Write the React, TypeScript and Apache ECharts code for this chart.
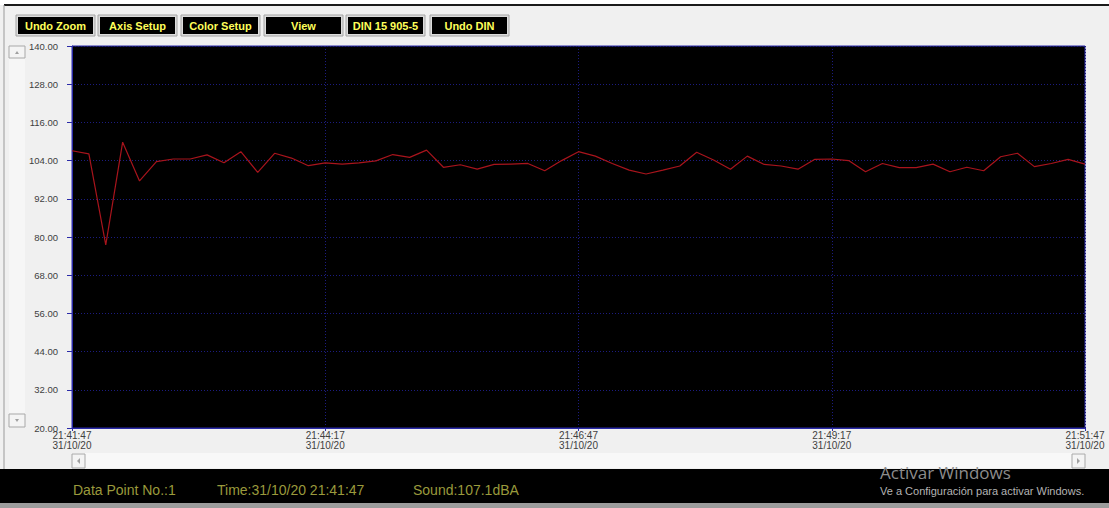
import React, { useEffect, useRef } from "react";
import * as echarts from "echarts";

// ---- data ----
const SAMPLE_SECONDS = 10; // one reading every 10 s, starting 21:41:47
const soundDBA: number[] = [
  107.1, 106.1, 77.5, 109.8, 97.6, 103.7, 104.5, 104.5, 105.8, 103.3,
  106.8, 100.3, 106.3, 104.8, 102.4, 103.3, 102.9, 103.3, 103.9, 105.9,
  105.0, 107.3, 101.9, 102.7, 101.3, 102.8, 102.9, 103.1, 100.8, 104.0,
  106.8, 105.4, 103.1, 101.0, 99.8, 101.0, 102.3, 106.6, 104.2, 101.3,
  105.4, 102.8, 102.3, 101.3, 104.4, 104.5, 104.0, 100.5, 103.1, 101.8,
  101.8, 102.9, 100.5, 101.9, 100.8, 105.2, 106.3, 102.1, 103.1, 104.4,
  102.9,
];
const xTickLabels: string[] = [
  "21:41:47\n31/10/20",
  "21:44:17\n31/10/20",
  "21:46:47\n31/10/20",
  "21:49:17\n31/10/20",
  "21:51:47\n31/10/20",
];
const X_TICK_STEP = 150; // seconds
const yTicks: number[] = [20, 32, 44, 56, 68, 80, 92, 104, 116, 128, 140];
const buttonLabels: string[] = ["Undo Zoom", "Axis Setup", "Color Setup", "View", "DIN 15 905-5", "Undo DIN"];
const statusTexts: string[] = ["Data Point No.:1", "Time:31/10/20 21:41:47", "Sound:107.1dBA"];

export default function App() {
  const ref = useRef<HTMLDivElement>(null);
  useEffect(() => {
    if (!ref.current) return;
    const chart = echarts.init(ref.current, null, { renderer: "svg" });

    const seriesData = soundDBA.map((v, i) => [i * SAMPLE_SECONDS, v]);
    const xMax = (soundDBA.length - 1) * SAMPLE_SECONDS;

    const btnX = [18, 100, 183, 266, 348, 432];
    const btnW = 75;
    const buttons: any[] = [];
    buttonLabels.forEach((t, i) => {
      buttons.push({
        type: "rect",
        shape: { x: btnX[i] - 2, y: 15, width: btnW + 4, height: 21 },
        style: { fill: "#dcdcdc", stroke: "#a4a4a4", lineWidth: 1 },
        silent: true,
      });
      buttons.push({
        type: "rect",
        shape: { x: btnX[i], y: 17, width: btnW, height: 17 },
        style: { fill: "#000000" },
        silent: true,
      });
      buttons.push({
        type: "text",
        x: btnX[i] + btnW / 2,
        y: 25.5,
        style: {
          text: t,
          fill: "#ffff5a",
          font: "bold 11px 'Liberation Sans', Arial, sans-serif",
          align: "center",
          verticalAlign: "middle",
        },
        silent: true,
      });
    });

    const statusX = [73, 217, 413];
    const status = statusTexts.map((t, i) => ({
      type: "text",
      x: statusX[i],
      y: 490,
      style: {
        text: t,
        fill: "#9a9a3c",
        font: "14px 'Liberation Sans', Arial, sans-serif",
        verticalAlign: "middle",
      },
      silent: true,
    }));

    const tri = (pts: number[][]) => ({
      type: "polygon",
      shape: { points: pts },
      style: { fill: "#a0a0a0" },
      silent: true,
    });
    const box = (x: number, y: number, w: number, h: number) => ({
      type: "rect",
      shape: { x, y, width: w, height: h },
      style: { fill: "#f4f4f4", stroke: "#a8a8a8", lineWidth: 1 },
      silent: true,
    });

    const gridLine = { show: true, lineStyle: { color: "#1c1c80", type: [1, 2], width: 1 } };

    chart.setOption({
      animation: false,
      backgroundColor: "#f0f0f0",
      grid: {
        left: 72,
        top: 46,
        width: 1013,
        height: 382,
        show: true,
        backgroundColor: "#000000",
        borderColor: "#2a2aa8",
        borderWidth: 1,
      },
      xAxis: {
        type: "value",
        min: 0,
        max: xMax,
        interval: X_TICK_STEP,
        axisLine: { show: true, lineStyle: { color: "#2a2aa8", width: 1 } },
        axisTick: { show: true, length: 3, lineStyle: { color: "#2a2aa8" } },
        axisLabel: {
          margin: 2,
          color: "#404040",
          fontSize: 10,
          lineHeight: 10,
          fontFamily: "'Liberation Sans', Arial, sans-serif",
          formatter: (v: number) => xTickLabels[Math.round(v / X_TICK_STEP)] ?? "",
          showMinLabel: true,
          showMaxLabel: true,
        },
        splitLine: gridLine,
      },
      yAxis: {
        type: "value",
        min: yTicks[0],
        max: yTicks[yTicks.length - 1],
        axisLine: { show: true, lineStyle: { color: "#2a2aa8", width: 1 } },
        axisTick: { show: true, length: 5, customValues: yTicks, lineStyle: { color: "#2a2aa8" } },
        axisLabel: {
          customValues: yTicks,
          margin: 14,
          color: "#404040",
          fontSize: 9.5,
          fontFamily: "'Liberation Sans', Arial, sans-serif",
          formatter: (v: number) => v.toFixed(2),
        },
        splitLine: gridLine,
      },
      series: [
        {
          type: "line",
          data: seriesData,
          symbol: "none",
          lineStyle: { color: "#a8141c", width: 1.2 },
          silent: true,
        },
      ],
      graphic: [
        { type: "rect", shape: { x: 0, y: 0, width: 1109, height: 5 }, style: { fill: "#ffffff" }, silent: true },
        { type: "line", shape: { x1: 4, y1: 5, x2: 1109, y2: 5 }, style: { stroke: "#1a1a1a", lineWidth: 2 }, silent: true },
        { type: "line", shape: { x1: 4, y1: 5, x2: 4, y2: 469 }, style: { stroke: "#9a9a9a", lineWidth: 1 }, silent: true },
        ...buttons,
        { type: "rect", shape: { x: 9, y: 46, width: 16, height: 381 }, style: { fill: "#f6f6f6" }, silent: true },
        box(9, 46, 16, 12),
        tri([[15, 54], [19, 54], [17, 51]]),
        box(9, 414, 16, 13),
        tri([[15, 419], [19, 419], [17, 422]]),
        { type: "rect", shape: { x: 72, y: 453, width: 1013, height: 15 }, style: { fill: "#f8f8f8" }, silent: true },
        box(72, 454, 13, 14),
        tri([[80, 458], [80, 464], [77, 461]]),
        box(1072, 454, 13, 14),
        tri([[1077, 458], [1077, 464], [1080, 461]]),
        { type: "rect", shape: { x: 0, y: 469, width: 1109, height: 34 }, style: { fill: "#000000" }, silent: true },
        { type: "rect", shape: { x: 0, y: 503, width: 1109, height: 5 }, style: { fill: "#9c9c9c" }, silent: true },
        ...status,
        {
          type: "text",
          x: 880,
          y: 472,
          style: { text: "Activar Windows", fill: "#8c8c8c", font: "17px 'Open Sans', 'Liberation Sans', sans-serif", verticalAlign: "middle" },
          silent: true,
        },
        {
          type: "text",
          x: 880,
          y: 491,
          style: { text: "Ve a Configuración para activar Windows.", fill: "#b4b4b4", font: "11px 'Liberation Sans', Arial, sans-serif", verticalAlign: "middle" },
          silent: true,
        },
      ],
    });
    return () => chart.dispose();
  }, []);

  return (
    <div
      ref={ref}
      style={{ position: "fixed", left: 0, top: 0, width: 1109, height: 508 }}
    />
  );
}
